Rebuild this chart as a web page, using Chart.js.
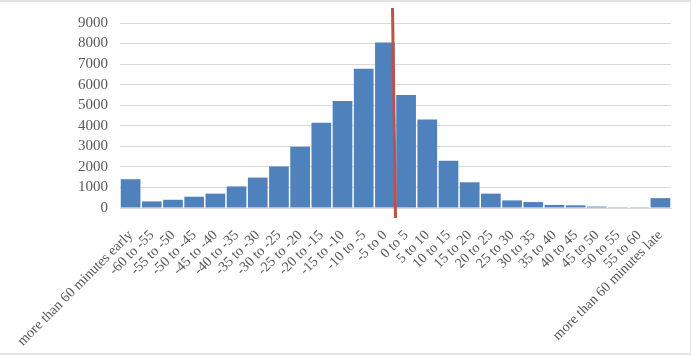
<!DOCTYPE html>
<html>
<head>
<meta charset="utf-8">
<script src="https://cdn.jsdelivr.net/npm/chart.js@4"></script>
<style>
  html, body { margin: 0; padding: 0; background: #fff; }
  #wrap {
    position: relative;
    width: 690px; height: 351px;
    border-top: 2px solid #e3e3e3;
    border-right: 1px solid #e3e3e3;
    border-bottom: 2px solid #e3e3e3;
  }
</style>
</head>
<body>
<div id="wrap"><canvas id="chart"></canvas></div>
<script>
// data
const labels = [
  'more than 60 minutes early',
  '-60 to -55', '-55 to -50', '-50 to -45', '-45 to -40', '-40 to -35', '-35 to -30',
  '-30 to -25', '-25 to -20', '-20 to -15', '-15 to -10', '-10 to -5', '-5 to 0',
  '0 to 5', '5 to 10', '10 to 15', '15 to 20', '20 to 25', '25 to 30',
  '30 to 35', '35 to 40', '40 to 45', '45 to 50', '50 to 55', '55 to 60',
  'more than 60 minutes late'
];
const counts = [
  1400, 320, 400, 550, 700, 1050, 1480, 2020, 2980, 4150, 5200, 6780, 8050,
  5500, 4300, 2300, 1250, 700, 370, 290, 150, 130, 70, 40, 40, 480
];
const yTicks = [0, 1000, 2000, 3000, 4000, 5000, 6000, 7000, 8000, 9000];

// red marker between "-5 to 0" and "0 to 5"
const zeroLine = {
  id: 'zeroLine',
  afterDatasetsDraw(chart) {
    const x = chart.scales.x;
    const xb = (x.getPixelForValue(12) + x.getPixelForValue(13)) / 2;
    const ctx = chart.ctx;
    ctx.save();
    ctx.strokeStyle = '#c0504d';
    ctx.lineWidth = 3;
    ctx.beginPath();
    ctx.moveTo(xb - 3, chart.chartArea.top - 15);
    ctx.lineTo(xb, chart.chartArea.bottom + 10);
    ctx.stroke();
    ctx.restore();
  }
};

new Chart(document.getElementById('chart'), {
  type: 'bar',
  data: {
    labels,
    datasets: [{
      data: counts,
      backgroundColor: '#4f81bd',
      categoryPercentage: 1,
      barPercentage: 0.93
    }]
  },
  plugins: [zeroLine],
  options: {
    responsive: true,
    maintainAspectRatio: false,
    animation: false,
    layout: { padding: { top: 12, right: 19, left: 66, bottom: 0 } },
    plugins: {
      legend: { display: false },
      tooltip: { enabled: false }
    },
    scales: {
      x: {
        grid: { display: false },
        border: { color: '#d9d9d9' },
        afterFit: axis => { axis.height = 145; },
        ticks: {
          color: '#595959',
          font: { family: 'Liberation Serif', size: 14.3 },
          minRotation: 45, maxRotation: 45,
          autoSkip: false,
          padding: 11
        }
      },
      y: {
        min: 0, max: 9000,
        afterBuildTicks: axis => { axis.ticks = yTicks.map(v => ({ value: v })); },
        grid: { color: '#d9d9d9', drawTicks: false },
        border: { display: false },
        ticks: {
          color: '#595959',
          font: { family: 'Liberation Serif', size: 15 },
          padding: 12,
          autoSkip: false,
          callback: v => String(v)
        }
      }
    }
  }
});
</script>
</body>
</html>
